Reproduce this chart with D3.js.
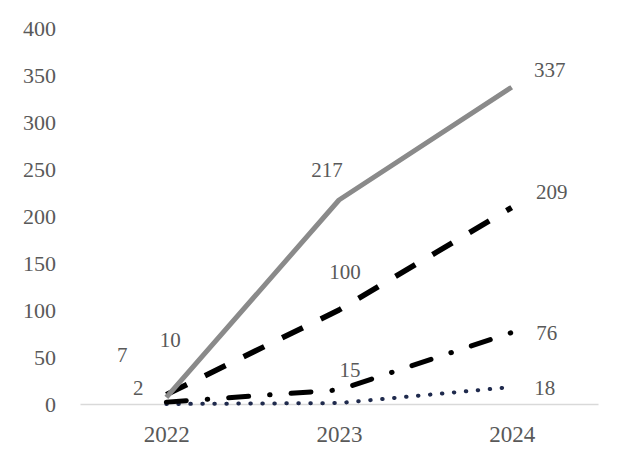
<!DOCTYPE html>
<html><head><meta charset="utf-8">
<script src="https://cdn.jsdelivr.net/npm/d3@7"></script>
<style>body{margin:0;background:#fff}</style>
</head><body>
<svg id="c" width="627" height="467"></svg>
<script>
const categories = ["2022","2023","2024"];
const yTicks = [0,50,100,150,200,250,300,350,400];
const seriesGray = [7,217,337];
const seriesDash = [10,100,209];
const seriesDashDot = [2,15,76];
const seriesDot = [0,1,18];
const labelsGray = ["7","217","337"];
const labelsDash = ["10","100","209"];
const labelsDashDot = ["2","15","76"];
const labelsDot = [null,null,"18"];

const series = [
  {values: seriesGray, labels: labelsGray, color:"#8a8a8a", width:5, dash:null, cap:"butt",
   off:[[-44,-42],[-12,-30],[38,-17]]},
  {values: seriesDash, labels: labelsDash, color:"#000", width:5.5, dash:"23 20", cap:"butt",
   off:[[4,-55],[6,-38],[40,-16]]},
  {values: seriesDashDot, labels: labelsDashDot, color:"#000", width:5, dash:"20 21 0.5 21", cap:"round",
   off:[[-28,-14],[11,-20],[35,0]]},
  {values: seriesDot, labels: labelsDot, color:"#1f2a4d", width:4, dash:"0.5 11.5", cap:"round",
   off:[[0,0],[0,0],[33,1]]}
];

const svg = d3.select("#c");
const x = d3.scalePoint().domain(categories).range([80,598]).padding(0.5);
const y = d3.scaleLinear().domain([0,400]).range([404,28]);
const font = "'Liberation Serif','Times New Roman',serif";

// y axis labels
const yAxis = d3.axisLeft(y).tickValues(yTicks).tickSize(0).tickPadding(0);
const gy = svg.append("g").attr("transform","translate(56,0)").call(yAxis);
gy.select(".domain").remove();
gy.selectAll("text").attr("font-family",font).attr("font-size",22).attr("fill","#595959");

// x axis
const xAxis = d3.axisBottom(x).tickSize(0).tickPadding(0);
const gx = svg.append("g").attr("transform","translate(0,404)").call(xAxis);
gx.select(".domain").attr("stroke","#d9d9d9").attr("stroke-width",1.5);
gx.selectAll("text").attr("font-family",font).attr("font-size",23).attr("fill","#595959")
  .attr("dy",null).attr("y",38);

const line = d3.line().x((d,i)=>x(categories[i])).y(d=>y(d));

// draw in reverse so gray is on top? reference shows gray over dash at start
[3,2,1,0].forEach(k=>{
  const s = series[k];
  svg.append("path").attr("d", line(s.values)).attr("fill","none")
    .attr("stroke", s.color).attr("stroke-width", s.width)
    .attr("stroke-dasharray", s.dash).attr("stroke-linecap", s.cap).attr("stroke-linejoin","round");
});

series.forEach(s=>{
  s.values.forEach((v,i)=>{
    if(s.labels[i]==null) return;
    svg.append("text").attr("x", x(categories[i]) + s.off[i][0]).attr("y", y(v) + s.off[i][1])
      .attr("text-anchor","middle").attr("dominant-baseline","central")
      .attr("font-family",font).attr("font-size",21).attr("fill","#595959")
      .text(s.labels[i]);
  });
});
</script>
</body></html>
